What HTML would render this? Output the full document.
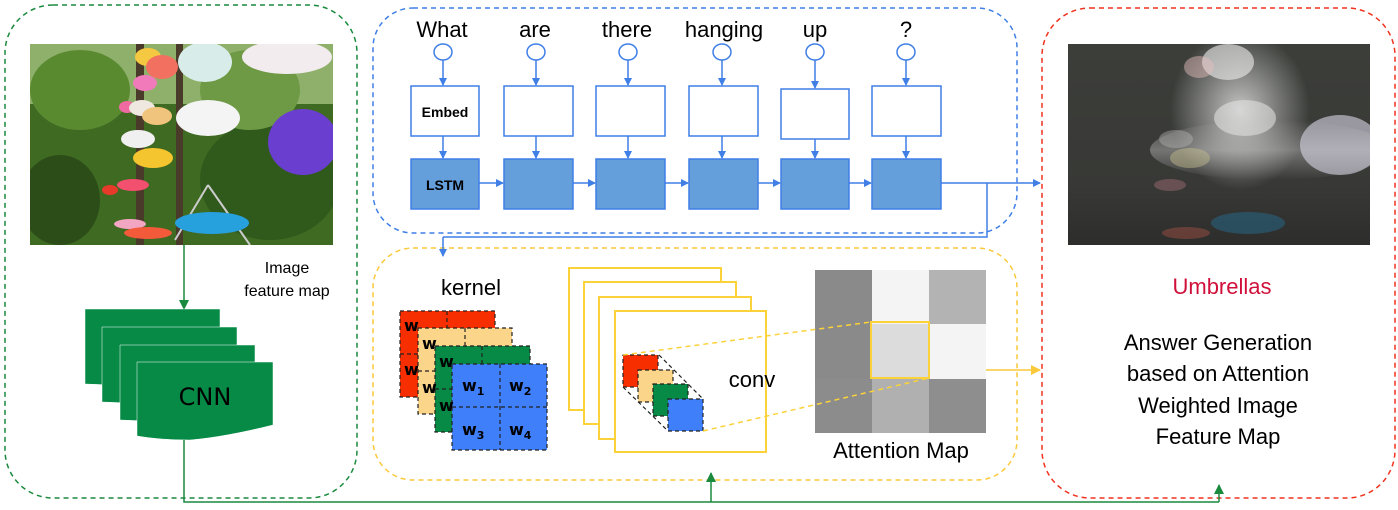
<!DOCTYPE html>
<html><head><meta charset="utf-8"><style>
html,body{margin:0;padding:0;background:#fff;}
svg{display:block;font-family:"Liberation Sans",sans-serif;}
</style></head><body>
<svg width="1398" height="510" viewBox="0 0 1398 510" xmlns="http://www.w3.org/2000/svg">
<defs>
<marker id="ab" markerWidth="8" markerHeight="8" refX="7" refY="4" orient="auto" markerUnits="userSpaceOnUse"><path d="M0,0 L8,4 L0,8 z" fill="#3f7fe6"/></marker>
<marker id="ag" markerWidth="10" markerHeight="10" refX="9" refY="5" orient="auto" markerUnits="userSpaceOnUse"><path d="M0,0 L10,5 L0,10 z" fill="#1a8a3e"/></marker>
<marker id="ay" markerWidth="10" markerHeight="10" refX="9" refY="5" orient="auto" markerUnits="userSpaceOnUse"><path d="M0,0 L10,5 L0,10 z" fill="#fbc93a"/></marker>
<radialGradient id="glow1" cx="0.5" cy="0.5" r="0.5"><stop offset="0" stop-color="#fff" stop-opacity="0.7"/><stop offset="1" stop-color="#fff" stop-opacity="0"/></radialGradient>
<linearGradient id="beam" x1="0" y1="0" x2="0" y2="1"><stop offset="0" stop-color="#fff" stop-opacity="0"/><stop offset="0.5" stop-color="#fff" stop-opacity="0.6"/><stop offset="1" stop-color="#fff" stop-opacity="0"/></linearGradient>
<linearGradient id="dark" x1="0" y1="0" x2="0" y2="1"><stop offset="0" stop-color="#3c3e3a"/><stop offset="0.7" stop-color="#383936"/><stop offset="1" stop-color="#2d2d2c"/></linearGradient>
<clipPath id="c1"><rect x="30" y="44" width="303" height="201"/></clipPath>
<clipPath id="c2"><rect x="1068" y="44" width="302" height="201"/></clipPath>
</defs>

<rect x="5" y="5" width="352" height="493" rx="48" fill="none" stroke="#1a8a3e" stroke-width="1.5" stroke-dasharray="5,4"/>
<rect x="373" y="8" width="644" height="225" rx="40" fill="none" stroke="#3f7fe6" stroke-width="1.5" stroke-dasharray="5,4"/>
<rect x="373" y="248" width="644" height="232" rx="40" fill="none" stroke="#fbc93a" stroke-width="1.5" stroke-dasharray="5,4"/>
<rect x="1042" y="8" width="353" height="490" rx="48" fill="none" stroke="#f0321e" stroke-width="1.5" stroke-dasharray="5,4"/>

<g clip-path="url(#c1)">
<rect x="30" y="44" width="303" height="201" fill="#3f6a22"/>
<rect x="30" y="44" width="303" height="60" fill="#8fb06a"/>
<ellipse cx="80" cy="90" rx="50" ry="40" fill="#5a8a30"/>
<ellipse cx="270" cy="180" rx="70" ry="60" fill="#2f5a1c"/>
<ellipse cx="60" cy="200" rx="40" ry="45" fill="#2c4d18"/>
<ellipse cx="250" cy="90" rx="50" ry="40" fill="#6f9a45"/>
<rect x="136" y="44" width="8" height="201" fill="#4a3a2a"/>
<rect x="176" y="44" width="7" height="201" fill="#4a3a2a"/>
<ellipse cx="148" cy="57" rx="13" ry="9" fill="#f5c842"/>
<ellipse cx="162" cy="67" rx="16" ry="12" fill="#f2705f"/>
<ellipse cx="205" cy="62" rx="27" ry="20" fill="#d8ecea"/>
<ellipse cx="145" cy="83" rx="12" ry="8" fill="#f07aba"/>
<ellipse cx="287" cy="57" rx="45" ry="17" fill="#f2ecef"/>
<ellipse cx="127" cy="107" rx="8" ry="6" fill="#f06aa2"/>
<ellipse cx="142" cy="108" rx="13" ry="8" fill="#eee8e0"/>
<ellipse cx="157" cy="116" rx="15" ry="9" fill="#f1c47e"/>
<ellipse cx="208" cy="118" rx="32" ry="18" fill="#f4f4f4"/>
<ellipse cx="138" cy="139" rx="17" ry="9" fill="#f0f0f0"/>
<ellipse cx="303" cy="142" rx="35" ry="33" fill="#6a3fcf"/>
<ellipse cx="153" cy="158" rx="20" ry="10" fill="#f5c52f"/>
<ellipse cx="133" cy="185" rx="16" ry="6" fill="#f2506e"/>
<ellipse cx="110" cy="190" rx="8" ry="5" fill="#e83a2a"/>
<line x1="208" y1="185" x2="175" y2="240" stroke="#ccc" stroke-width="2"/>
<line x1="208" y1="185" x2="250" y2="245" stroke="#ccc" stroke-width="2"/>
<ellipse cx="212" cy="223" rx="37" ry="11" fill="#27a0de"/>
<ellipse cx="130" cy="224" rx="16" ry="5" fill="#f3a6c2"/>
<ellipse cx="148" cy="233" rx="24" ry="6" fill="#f25a3a"/>
</g>

<g clip-path="url(#c2)">
<rect x="1068" y="44" width="302" height="201" fill="url(#dark)"/>
<ellipse cx="1240" cy="110" rx="70" ry="80" fill="url(#glow1)"/>
<ellipse cx="1270" cy="150" rx="120" ry="30" fill="url(#beam)" opacity="0.5"/>
<ellipse cx="1340" cy="145" rx="40" ry="30" fill="#d8d6e5" opacity="0.6"/>
<ellipse cx="1245" cy="118" rx="31" ry="18" fill="#e6e6e6" opacity="0.55"/>
<ellipse cx="1228" cy="62" rx="26" ry="18" fill="#eeeeee" opacity="0.6"/>
<ellipse cx="1199" cy="67" rx="15" ry="11" fill="#e8c0c0" opacity="0.45"/>
<ellipse cx="1190" cy="158" rx="20" ry="10" fill="#c8bf90" opacity="0.45"/>
<ellipse cx="1176" cy="139" rx="17" ry="9" fill="#bbb" opacity="0.4"/>
<ellipse cx="1248" cy="223" rx="37" ry="11" fill="#2a5b74" opacity="0.7"/>
<ellipse cx="1186" cy="233" rx="24" ry="6" fill="#8a4a40" opacity="0.6"/>
<ellipse cx="1170" cy="185" rx="16" ry="6" fill="#9a6a70" opacity="0.5"/>
</g>

<line x1="184" y1="245" x2="184" y2="309" stroke="#1a8a3e" stroke-width="1.5" marker-end="url(#ag)"/>
<text x="287" y="273" font-size="16" text-anchor="middle">Image</text>
<text x="287" y="296" font-size="16" text-anchor="middle">feature map</text>

<g fill="#068a45" stroke="#fff" stroke-width="0.5">
<path d="M85,309 H220 V387 Q180,393 150,388 Q120,385 85,384 Z"/>
<path d="M102,327 H237 V405 Q197,411 167,406 Q137,403 102,402 Z"/>
<path d="M120,345 H255 V423 Q215,429 185,424 Q155,421 120,420 Z"/>
<path d="M137,362 H273 V425 Q225,437 190,440 Q160,440 137,436 Z"/>
</g>
<text x="205" y="405" font-size="24" text-anchor="middle" font-family="DejaVu Sans, sans-serif">CNN</text>
<polyline points="184,440 184,502 1219,502" fill="none" stroke="#1a8a3e" stroke-width="1.5"/>
<line x1="711" y1="502" x2="711" y2="473" stroke="#1a8a3e" stroke-width="1.5" marker-end="url(#ag)"/>
<line x1="1219" y1="502" x2="1219" y2="485" stroke="#1a8a3e" stroke-width="1.5" marker-end="url(#ag)"/>

<g font-size="22" text-anchor="middle">
<text x="442" y="37">What</text><text x="535" y="37">are</text><text x="627" y="37">there</text>
<text x="724" y="37">hanging</text><text x="815" y="37">up</text><text x="906" y="37">?</text>
</g>
<g fill="#fff" stroke="#3f7fe6" stroke-width="1.5">
<ellipse cx="443" cy="52" rx="9" ry="8"/><ellipse cx="536" cy="52" rx="9" ry="8"/><ellipse cx="628" cy="52" rx="9" ry="8"/>
<ellipse cx="722" cy="52" rx="9" ry="8"/><ellipse cx="815" cy="52" rx="9" ry="8"/><ellipse cx="906" cy="52" rx="9" ry="8"/>
</g>
<g stroke="#3f7fe6" stroke-width="1.5" marker-end="url(#ab)">
<line x1="443" y1="60" x2="443" y2="85"/><line x1="536" y1="60" x2="536" y2="85"/><line x1="628" y1="60" x2="628" y2="85"/>
<line x1="722" y1="60" x2="722" y2="85"/><line x1="815" y1="60" x2="815" y2="88"/><line x1="906" y1="60" x2="906" y2="85"/>
<line x1="443" y1="136" x2="443" y2="158"/><line x1="536" y1="136" x2="536" y2="158"/><line x1="628" y1="136" x2="628" y2="158"/>
<line x1="722" y1="136" x2="722" y2="158"/><line x1="815" y1="139" x2="815" y2="158"/><line x1="906" y1="136" x2="906" y2="158"/>
<line x1="479" y1="183" x2="503" y2="183"/><line x1="573" y1="183" x2="595" y2="183"/><line x1="665" y1="183" x2="688" y2="183"/>
<line x1="758" y1="183" x2="780" y2="183"/><line x1="849" y1="183" x2="871" y2="183"/>
<line x1="941" y1="183" x2="1040" y2="183"/>
</g>
<g fill="#fff" stroke="#3f7fe6" stroke-width="1.5">
<rect x="411" y="86" width="68" height="50"/><rect x="504" y="86" width="69" height="50"/><rect x="596" y="86" width="69" height="50"/>
<rect x="689" y="86" width="69" height="50"/><rect x="781" y="89" width="68" height="50"/><rect x="872" y="86" width="69" height="50"/>
</g>
<g fill="#649fdc" stroke="#3f7fe6" stroke-width="1.5">
<rect x="411" y="159" width="68" height="50"/><rect x="504" y="159" width="69" height="50"/><rect x="596" y="159" width="69" height="50"/>
<rect x="689" y="159" width="69" height="50"/><rect x="781" y="159" width="68" height="50"/><rect x="872" y="159" width="69" height="50"/>
</g>
<text x="445" y="117" font-size="14" font-weight="bold" text-anchor="middle">Embed</text>
<text x="445" y="190" font-size="14" font-weight="bold" text-anchor="middle">LSTM</text>
<polyline points="987,183 987,237 443,237" fill="none" stroke="#3f7fe6" stroke-width="1.5"/>
<line x1="443" y1="237" x2="443" y2="256" stroke="#3f7fe6" stroke-width="1.5" marker-end="url(#ab)"/>

<text x="471" y="295" font-size="22" text-anchor="middle">kernel</text>
<g stroke="#222" stroke-width="1.2" stroke-dasharray="4,3">
<rect x="400" y="311" width="95" height="86" fill="#f72f00"/>
<rect x="418" y="328" width="94" height="86" fill="#fbd58a"/>
<rect x="435" y="346" width="95" height="86" fill="#068a45"/>
<rect x="452" y="364" width="95" height="86" fill="#3f7ff9"/>
<line x1="447" y1="311" x2="447" y2="328"/><line x1="400" y1="354" x2="418" y2="354"/>
<line x1="465" y1="328" x2="465" y2="346"/><line x1="418" y1="371" x2="435" y2="371"/>
<line x1="482" y1="346" x2="482" y2="364"/><line x1="435" y1="389" x2="452" y2="389"/>
<line x1="500" y1="364" x2="500" y2="450"/><line x1="452" y1="407" x2="547" y2="407"/>
</g>
<g font-size="16" font-weight="bold" font-family="DejaVu Sans, sans-serif">
<text x="404" y="331">w</text><text x="422" y="349">w</text><text x="439" y="367">w</text>
<text x="404" y="375">w</text><text x="422" y="393">w</text><text x="439" y="411">w</text>
<text x="462" y="391">w<tspan font-size="11" dy="4">1</tspan></text>
<text x="509" y="391">w<tspan font-size="11" dy="4">2</tspan></text>
<text x="462" y="435">w<tspan font-size="11" dy="4">3</tspan></text>
<text x="509" y="435">w<tspan font-size="11" dy="4">4</tspan></text>
</g>

<g fill="#fff" stroke="#fbd23a" stroke-width="2">
<rect x="569" y="268" width="152" height="142"/><rect x="584" y="282" width="152" height="142"/>
<rect x="599" y="297" width="152" height="142"/><rect x="615" y="311" width="151" height="141"/>
</g>
<g stroke="#222" stroke-width="1.2" stroke-dasharray="4,3">
<line x1="659" y1="355" x2="703" y2="399"/><line x1="623" y1="387" x2="668" y2="431"/>
<rect x="623" y="355" width="35" height="32" fill="#f72f00"/>
<rect x="638" y="370" width="35" height="32" fill="#fbd58a"/>
<rect x="653" y="384" width="35" height="32" fill="#068a45"/>
<rect x="668" y="399" width="35" height="32" fill="#3f7ff9"/>
</g>
<text x="752" y="387" font-size="22" text-anchor="middle">conv</text>

<g>
<rect x="815" y="270" width="57" height="54" fill="#8a8a8a"/><rect x="872" y="270" width="57" height="54" fill="#f4f4f4"/><rect x="929" y="270" width="57" height="54" fill="#b3b3b3"/>
<rect x="815" y="324" width="57" height="55" fill="#8a8a8a"/><rect x="872" y="324" width="57" height="55" fill="#dcdcdc"/><rect x="929" y="324" width="57" height="55" fill="#f4f4f4"/>
<rect x="815" y="379" width="57" height="54" fill="#8c8c8c"/><rect x="872" y="379" width="57" height="54" fill="#b0b0b0"/><rect x="929" y="379" width="57" height="54" fill="#8e8e8e"/>
</g>
<line x1="623" y1="355" x2="871" y2="322" stroke="#fbd23a" stroke-width="1.5" stroke-dasharray="5,4"/>
<line x1="703" y1="431" x2="929" y2="378" stroke="#fbd23a" stroke-width="1.5" stroke-dasharray="5,4"/>
<rect x="871" y="322" width="58" height="56" fill="none" stroke="#fbd23a" stroke-width="2"/>
<text x="901" y="458" font-size="22" text-anchor="middle">Attention Map</text>
<line x1="986" y1="370" x2="1040" y2="370" stroke="#fbc93a" stroke-width="1.5" marker-end="url(#ay)"/>

<text x="1222" y="294" font-size="22" fill="#d0103a" text-anchor="middle">Umbrellas</text>
<g font-size="22" text-anchor="middle">
<text x="1218" y="350">Answer Generation</text>
<text x="1218" y="381">based on Attention</text>
<text x="1218" y="413">Weighted Image</text>
<text x="1218" y="444">Feature Map</text>
</g>
</svg>
</body></html>
